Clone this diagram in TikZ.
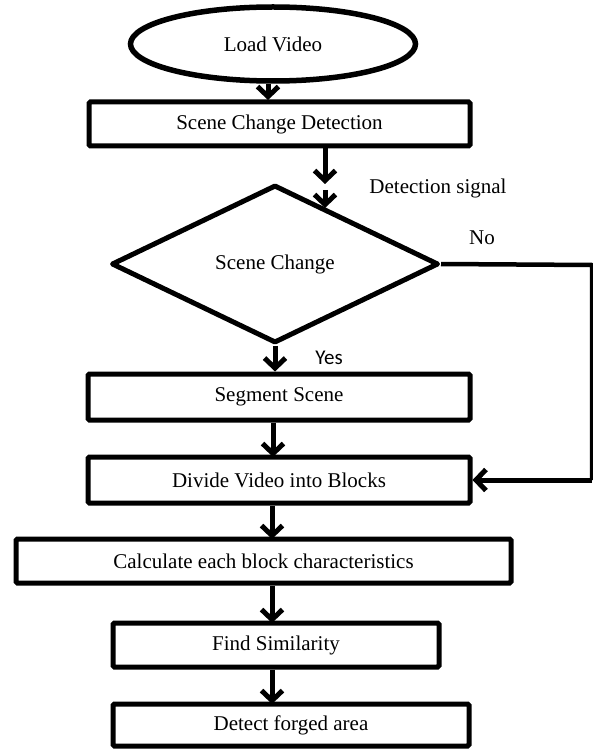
\documentclass[tikz,border=0pt]{standalone}
\usepackage{fontspec}
\setmainfont{Liberation Serif}
\newfontfamily\yesfont{Carlito}
\usetikzlibrary{arrows.meta,shapes.geometric}
\begin{document}
\begin{tikzpicture}[x=1pt,y=-1pt,
  every node/.style={font=\fontsize{21}{25}\selectfont},
  box/.style={draw, line width=5pt, rectangle, rounded corners=1.5pt, inner sep=0pt},
  arr/.style={line width=5pt, -{Straight Barb[length=10pt,width=21pt]}},
  conn/.style={line width=4.5pt, line join=round}]
\useasboundingbox (0,0) rectangle (592,751);

\node[draw, line width=5.5pt, ellipse, inner sep=0pt, minimum width=285pt, minimum height=74pt] (load) at (273,44) {Load Video};
\node[box, minimum width=381pt, minimum height=44pt] (scd) at (279.5,124) {Scene Change Detection};
\node[draw, line width=5pt, diamond, inner sep=0pt, minimum width=327pt, minimum height=158pt, line join=round] (dec) at (275,264) {Scene Change};
\node[box, minimum width=382pt, minimum height=46pt] (seg) at (279,397) {Segment Scene};
\node[box, minimum width=382pt, minimum height=46pt] (div) at (279,480) {Divide Video into Blocks};
\node[box, minimum width=495pt, minimum height=44pt] (calc) at (263.5,561) {Calculate each block characteristics};
\node[box, minimum width=326pt, minimum height=44pt] (find) at (276,645) {Find Similarity};
\node[box, minimum width=356pt, minimum height=42pt] (det) at (291,725) {Detect forged area};

\node (sig) at (438,188) {Detection signal};
\node (no) at (482,238) {No};
\node[font=\yesfont\fontsize{21}{25}\selectfont] (yes) at (329,358) {Yes};

\coordinate (a1) at (325,148);
\coordinate (a2) at (325,184);
\coordinate (a3) at (325,190);
\coordinate (a4) at (325,208);
\coordinate (r1) at (592,265);
\coordinate (r2) at (592,480);

\draw[arr] (load.south -| 268,0) -- (268,100);
\draw[arr] (a1) -- (a2);
\draw[arr] (a3) -- (a4);
\draw[arr] (dec.south) -- (dec.south |- seg.north);
\draw[arr] (seg.south -| 273,0) -- (273,457);
\draw[arr] (div.south -| 272,0) -- (272,539);
\draw[arr] (calc.south -| 272,0) -- (272,623);
\draw[arr] (find.south -| 272,0) -- (272,704);
\draw[conn] (dec.east) -- (r1) -- (r2);
\draw[arr] (r2) -- (div.east);
\end{tikzpicture}
\end{document}
